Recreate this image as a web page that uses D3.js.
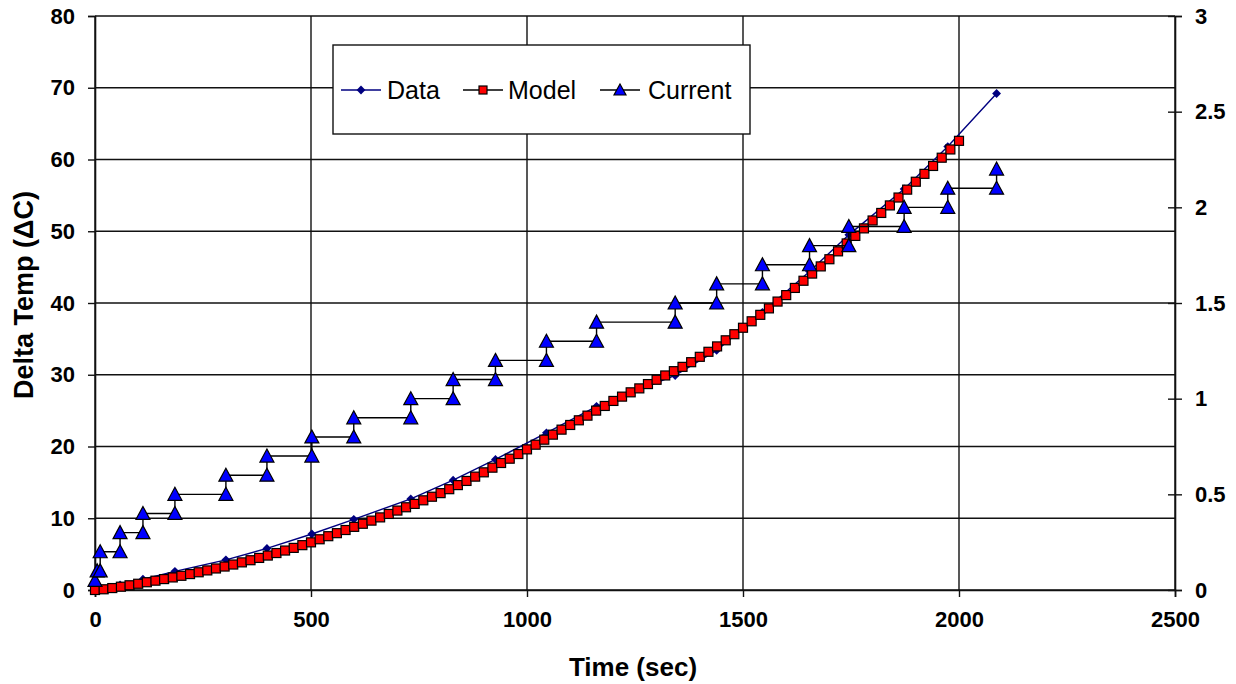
<!DOCTYPE html>
<html>
<head>
<meta charset="utf-8">
<script src="https://cdn.jsdelivr.net/npm/d3@7"></script>
<style>
  body { margin: 0; background: #fff; }
  text { font-family: "Liberation Sans", Arial, sans-serif; }
</style>
</head>
<body>
<div id="chart"></div>
<script>
"use strict";

// measured temperature rise (sec, deg C)
var dataTime = [0, 12, 58, 111, 185, 303, 398, 502, 599, 731, 829, 927, 1045, 1161, 1343, 1439, 1545, 1654, 1745, 1873, 1974, 2087];
var dataTemp = [0, 0.1, 0.7, 1.5, 2.6, 4.2, 5.8, 7.8, 9.85, 12.7, 15.3, 18.2, 21.9, 25.6, 29.9, 33.4, 38.7, 44.4, 49.5, 55.9, 61.8, 69.2];

// model, one point every 20 sec from 0 to 2000
var modelTime = [0, 20, 40, 60, 80, 100, 120, 140, 160, 180, 200, 220, 240, 260, 280, 300, 320, 340, 360, 380,
  400, 420, 440, 460, 480, 500, 520, 540, 560, 580, 600, 620, 640, 660, 680, 700, 720, 740, 760, 780,
  800, 820, 840, 860, 880, 900, 920, 940, 960, 980, 1000, 1020, 1040, 1060, 1080, 1100, 1120, 1140, 1160, 1180,
  1200, 1220, 1240, 1260, 1280, 1300, 1320, 1340, 1360, 1380, 1400, 1420, 1440, 1460, 1480, 1500, 1520, 1540, 1560, 1580,
  1600, 1620, 1640, 1660, 1680, 1700, 1720, 1740, 1760, 1780, 1800, 1820, 1840, 1860, 1880, 1900, 1920, 1940, 1960, 1980, 2000];
var modelTemp = [0, 0.1, 0.27, 0.46, 0.66, 0.87, 1.08, 1.3, 1.52, 1.75, 1.98, 2.22, 2.47, 2.73, 3.0, 3.27, 3.55, 3.85, 4.15, 4.47,
  4.8, 5.15, 5.5, 5.87, 6.25, 6.64, 7.07, 7.5, 7.92, 8.36, 8.8, 9.23, 9.67, 10.12, 10.6, 11.07, 11.53, 12.0, 12.5, 13.0,
  13.5, 14.05, 14.62, 15.2, 15.8, 16.4, 17.05, 17.7, 18.3, 18.95, 19.6, 20.25, 20.95, 21.65, 22.35, 23.0, 23.65, 24.3, 25.0, 25.65,
  26.35, 26.95, 27.55, 28.1, 28.7, 29.3, 29.9, 30.5, 31.1, 31.75, 32.5, 33.2, 33.95, 34.8, 35.65, 36.55, 37.45, 38.35, 39.25, 40.2,
  41.1, 42.1, 43.1, 44.1, 45.1, 46.1, 47.2, 48.3, 49.35, 50.4, 51.5, 52.55, 53.6, 54.7, 55.8, 56.9, 58.0, 59.1, 60.25, 61.4, 62.6];

// current steps (amps, right axis)
var currentTime = [0, 5, 12, 12, 58, 58, 111, 111, 185, 185, 303, 303, 398, 398, 502, 502, 599, 599, 731, 731, 829, 829,
  927, 927, 1045, 1045, 1161, 1161, 1343, 1343, 1439, 1439, 1545, 1545, 1654, 1654, 1745, 1745, 1873, 1873, 1974, 1974, 2087, 2087];
var currentAmps = [0.05, 0.1, 0.1, 0.2, 0.2, 0.3, 0.3, 0.4, 0.4, 0.5, 0.5, 0.6, 0.6, 0.7, 0.7, 0.8, 0.8, 0.9, 0.9, 1.0, 1.0, 1.1,
  1.1, 1.2, 1.2, 1.3, 1.3, 1.4, 1.4, 1.5, 1.5, 1.6, 1.6, 1.7, 1.7, 1.8, 1.8, 1.9, 1.9, 2.0, 2.0, 2.1, 2.1, 2.2];

var xTicks = [0, 500, 1000, 1500, 2000, 2500];
var yTicks = [0, 10, 20, 30, 40, 50, 60, 70, 80];
var y2Ticks = [0, 0.5, 1, 1.5, 2, 2.5, 3];

var margin = { top: 16, right: 61, bottom: 94, left: 95 },
    width = 1236 - margin.left - margin.right,
    height = 684 - margin.top - margin.bottom;

var svg = d3.select("#chart")
            .append("svg")
            .attr("width", 1236)
            .attr("height", 684)
            .append("g")
            .attr("transform", "translate(" + margin.left + "," + margin.top + ")");

var x = d3.scaleLinear().domain([0, 2500]).range([0, width]);
var y = d3.scaleLinear().domain([0, 80]).range([height, 0]);
var y2 = d3.scaleLinear().domain([0, 3]).range([height, 0]);

// grid
svg.selectAll(".hgrid")
   .data(yTicks)
   .enter()
   .append("line")
   .attr("x1", 0).attr("x2", width)
   .attr("y1", function(d) { return y(d); })
   .attr("y2", function(d) { return y(d); })
   .attr("stroke", "#111").attr("stroke-width", 1.4);

svg.selectAll(".vgrid")
   .data(xTicks)
   .enter()
   .append("line")
   .attr("x1", function(d) { return x(d); })
   .attr("x2", function(d) { return x(d); })
   .attr("y1", 0).attr("y2", height)
   .attr("stroke", "#111").attr("stroke-width", 1.4);

// axes
var xAxis = d3.axisBottom(x).tickValues(xTicks).tickFormat(d3.format("")).tickSize(7).tickPadding(14);
var yAxis = d3.axisLeft(y).tickValues(yTicks).tickFormat(d3.format("")).tickSize(7).tickPadding(13);
var y2Axis = d3.axisRight(y2).tickValues(y2Ticks).tickFormat(d3.format("")).tickSize(7).tickPadding(13);

var gx = svg.append("g").attr("transform", "translate(0," + height + ")").call(xAxis);
var gy = svg.append("g").call(yAxis);
var gy2 = svg.append("g").attr("transform", "translate(" + width + ",0)").call(y2Axis);

// excel style cross ticks on the right axis
gy2.selectAll(".tick line").attr("x1", -7);

[gx, gy, gy2].forEach(function(g) {
  g.select(".domain").attr("stroke", "#111").attr("stroke-width", 1.6);
  g.selectAll(".tick line").attr("stroke", "#111").attr("stroke-width", 1.4);
  g.selectAll("text")
   .attr("fill", "#000")
   .style("font-size", "22px")
   .style("font-weight", "bold");
});

// axis titles
svg.append("text")
   .attr("x", width / 2 - 2)
   .attr("y", height + 86)
   .attr("text-anchor", "middle")
   .style("font-size", "26px")
   .style("font-weight", "bold")
   .text("Time (sec)");

svg.append("text")
   .attr("transform", "translate(" + (-62) + "," + (height / 2 - 8) + ") rotate(-90)")
   .attr("text-anchor", "middle")
   .style("font-size", "27px")
   .style("font-weight", "bold")
   .text("Delta Temp (\u0394C)");

// series
var dataPts = dataTime.map(function(t, i) { return [t, dataTemp[i]]; });
var modelPts = modelTime.map(function(t, i) { return [t, modelTemp[i]]; });
var currentPts = currentTime.map(function(t, i) { return [t, currentAmps[i]]; });

var line = d3.line()
             .x(function(d) { return x(d[0]); })
             .y(function(d) { return y(d[1]); });
var line2 = d3.line()
              .x(function(d) { return x(d[0]); })
              .y(function(d) { return y2(d[1]); });

svg.append("path").datum(dataPts)
   .attr("d", line).attr("fill", "none")
   .attr("stroke", "#000080").attr("stroke-width", 1.4);

svg.selectAll(".dataPt")
   .data(dataPts)
   .enter()
   .append("path")
   .attr("d", d3.symbol().type(d3.symbolDiamond2).size(50))
   .attr("transform", function(d) { return "translate(" + x(d[0]) + "," + y(d[1]) + ")"; })
   .attr("fill", "#000080");

svg.append("path").datum(modelPts)
   .attr("d", line).attr("fill", "none")
   .attr("stroke", "#000").attr("stroke-width", 1.2);

svg.selectAll(".modelPt")
   .data(modelPts)
   .enter()
   .append("rect")
   .attr("x", function(d) { return x(d[0]) - 4.5; })
   .attr("y", function(d) { return y(d[1]) - 4.5; })
   .attr("width", 9).attr("height", 9)
   .attr("fill", "#ff0000")
   .attr("stroke", "#000").attr("stroke-width", 1.2);

svg.append("path").datum(currentPts)
   .attr("d", line2).attr("fill", "none")
   .attr("stroke", "#000").attr("stroke-width", 1.4);

svg.selectAll(".currentPt")
   .data(currentPts)
   .enter()
   .append("path")
   .attr("d", "M0,-7L7,6L-7,6Z")
   .attr("transform", function(d) { return "translate(" + x(d[0]) + "," + y2(d[1]) + ")"; })
   .attr("fill", "#0000ff")
   .attr("stroke", "#000").attr("stroke-width", 1.2);

// legend
var legend = svg.append("g").attr("transform", "translate(238,29)");
legend.append("rect")
      .attr("width", 417).attr("height", 89)
      .attr("fill", "#fff").attr("stroke", "#111").attr("stroke-width", 1.4);

var legendItems = [
  { name: "Data", x: 8, text: 54 },
  { name: "Model", x: 130, text: 175 },
  { name: "Current", x: 267, text: 315 }
];
legendItems.forEach(function(item, i) {
  var g = legend.append("g").attr("transform", "translate(" + item.x + ",45)");
  g.append("line").attr("x1", 0).attr("x2", 40)
   .attr("stroke", i === 0 ? "#000080" : "#000").attr("stroke-width", 1.4);
  if (i === 0) {
    g.append("path").attr("d", d3.symbol().type(d3.symbolDiamond2).size(50))
     .attr("transform", "translate(20,0)").attr("fill", "#000080");
  } else if (i === 1) {
    g.append("rect").attr("x", 16).attr("y", -4).attr("width", 8).attr("height", 8)
     .attr("fill", "#ff0000").attr("stroke", "#000").attr("stroke-width", 1.2);
  } else {
    g.append("path").attr("d", "M0,-6L6,5L-6,5Z")
     .attr("transform", "translate(20,0)")
     .attr("fill", "#0000ff").attr("stroke", "#000").attr("stroke-width", 1.2);
  }
  legend.append("text")
        .attr("x", item.text)
        .attr("y", 54)
        .style("font-size", "25px")
        .text(item.name);
});
</script>
</body>
</html>
